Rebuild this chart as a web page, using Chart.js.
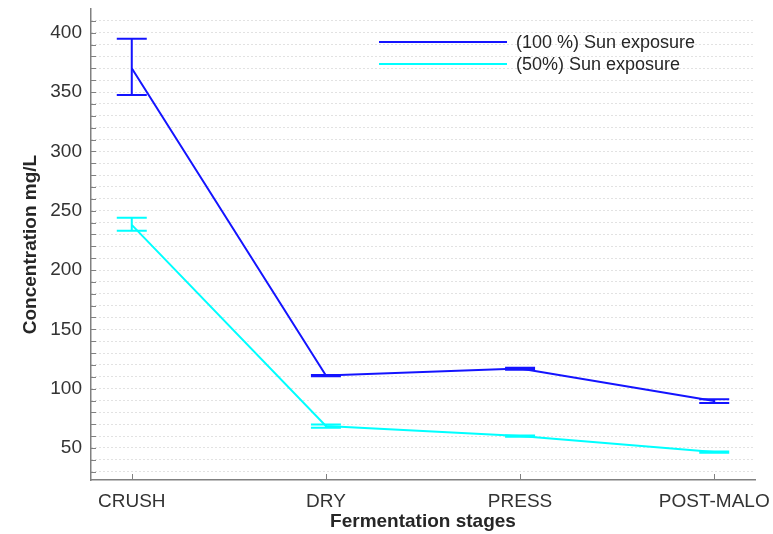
<!DOCTYPE html>
<html>
<head>
<meta charset="utf-8">
<script src="https://cdn.jsdelivr.net/npm/chart.js@4"></script>
<style>
  body { margin: 0; background: #fff; }
  #wrap { width: 773px; height: 534px; position: relative; }
</style>
</head>
<body>
<div id="wrap"><canvas id="stagesChart"></canvas></div>
<script>
const stages = ["CRUSH", "DRY", "PRESS", "POST-MALO"];

const fullSun = [370, 111, 117, 89.5];
const fullSunUpper = [395, 111.5, 117.7, 91];
const fullSunLower = [347.5, 110.5, 116, 88];

const halfSun = [238, 68.5, 60, 46.5];
const halfSunUpper = [244, 69.8, 60.5, 47];
const halfSunLower = [233, 67, 59.5, 46];

const yTicks = [30, 40, 50, 60, 70, 80, 90, 100, 110, 120, 130, 140, 150, 160, 170, 180, 190, 200,
    210, 220, 230, 240, 250, 260, 270, 280, 290, 300, 310, 320, 330, 340, 350, 360, 370, 380, 390, 400, 410];

const FONT = "'Liberation Sans', Arial, sans-serif";

function toPoints(values) {
    return values.map((v, i) => ({ x: i + 1, y: v }));
}

// error bars drawn from the upper/lower arrays
const errorBars = {
    id: "errorBars",
    afterDatasetsDraw(chart) {
        const ctx = chart.ctx;
        const xs = chart.scales.x, ys = chart.scales.y;
        chart.data.datasets.forEach(ds => {
            ctx.save();
            ctx.strokeStyle = ds.borderColor;
            ctx.lineWidth = 2;
            ds.upper.forEach((u, i) => {
                const x = xs.getPixelForValue(i + 1);
                const yu = ys.getPixelForValue(u);
                const yl = ys.getPixelForValue(ds.lower[i]);
                ctx.beginPath();
                ctx.moveTo(x, yu); ctx.lineTo(x, yl);
                ctx.moveTo(x - 15, yu); ctx.lineTo(x + 15, yu);
                ctx.moveTo(x - 15, yl); ctx.lineTo(x + 15, yl);
                ctx.stroke();
            });
            ctx.restore();
        });
    }
};

// inward tick marks + legend inside the plot
const extras = {
    id: "extras",
    afterDraw(chart) {
        const ctx = chart.ctx;
        const area = chart.chartArea;
        const xs = chart.scales.x, ys = chart.scales.y;
        ctx.save();
        ctx.strokeStyle = "#808080";
        ctx.lineWidth = 1;
        ctx.beginPath();
        ys.ticks.forEach(t => {
            const y = Math.round(ys.getPixelForValue(t.value)) + 0.5;
            ctx.moveTo(area.left, y); ctx.lineTo(area.left + 5, y);
        });
        xs.ticks.forEach(t => {
            const x = Math.round(xs.getPixelForValue(t.value)) + 0.5;
            ctx.moveTo(x, area.bottom); ctx.lineTo(x, area.bottom - 6);
        });
        ctx.stroke();

        ctx.font = "18px " + FONT;
        ctx.textBaseline = "middle";
        ctx.fillStyle = "#262626";
        chart.data.datasets.forEach((ds, i) => {
            const y = area.top + 33 + i * 22;
            ctx.strokeStyle = ds.borderColor;
            ctx.lineWidth = 2;
            ctx.beginPath();
            ctx.moveTo(area.left + 288, y); ctx.lineTo(area.left + 416, y);
            ctx.stroke();
            ctx.fillText(ds.label, area.left + 425, y + 1);
        });
        ctx.restore();
    }
};

const ctx = document.getElementById("stagesChart").getContext("2d");
new Chart(ctx, {
    type: "line",
    plugins: [errorBars, extras],
    data: {
        datasets: [
            {
                label: "(100 %) Sun exposure",
                data: toPoints(fullSun),
                upper: fullSunUpper,
                lower: fullSunLower,
                borderColor: "#1414ff",
                borderWidth: 2,
                pointRadius: 0,
                tension: 0
            },
            {
                label: "(50%) Sun exposure",
                data: toPoints(halfSun),
                upper: halfSunUpper,
                lower: halfSunLower,
                borderColor: "#00ffff",
                borderWidth: 2,
                pointRadius: 0,
                tension: 0
            }
        ]
    },
    options: {
        responsive: true,
        maintainAspectRatio: false,
        animation: false,
        layout: { padding: { top: 9, right: 18, left: 0, bottom: 0 } },
        plugins: {
            legend: { display: false },
            tooltip: { enabled: false }
        },
        scales: {
            x: {
                type: "linear",
                min: 0.79,
                max: 4.21,
                afterBuildTicks: scale => { scale.ticks = stages.map((s, i) => ({ value: i + 1 })); },
                afterFit: scale => {
                    scale.height = 54;
                    scale.paddingLeft = 0;
                    scale.paddingRight = 0;
                },
                grid: { display: false },
                border: { display: true, color: "#808080", width: 1.5 },
                ticks: {
                    autoSkip: false,
                    maxRotation: 0,
                    padding: 2,
                    color: "#333333",
                    font: { family: FONT, size: 19 },
                    callback: value => stages[value - 1]
                },
                title: {
                    display: true,
                    text: "Fermentation stages",
                    color: "#262626",
                    font: { family: FONT, size: 19, weight: "bold" },
                    padding: { top: 0, bottom: 0.5 }
                }
            },
            y: {
                min: 23,
                max: 420,
                afterBuildTicks: scale => { scale.ticks = yTicks.map(v => ({ value: v })); },
                afterFit: scale => {
                    scale.width = 91;
                    scale.paddingTop = 0;
                    scale.paddingBottom = 0;
                },
                grid: {
                    color: "#c4c4c4",
                    lineWidth: 1,
                    drawTicks: false
                },
                border: { display: true, color: "#808080", width: 1.5, dash: [1, 3] },
                ticks: {
                    autoSkip: false,
                    padding: 9,
                    color: "#333333",
                    font: { family: FONT, size: 19 },
                    callback: value => (value % 50 === 0 ? String(value) : "")
                },
                title: {
                    display: true,
                    text: "Concentration mg/L",
                    color: "#262626",
                    font: { family: FONT, size: 19, weight: "bold" },
                    padding: { top: 19, bottom: 0 }
                }
            }
        }
    }
});
</script>
</body>
</html>
